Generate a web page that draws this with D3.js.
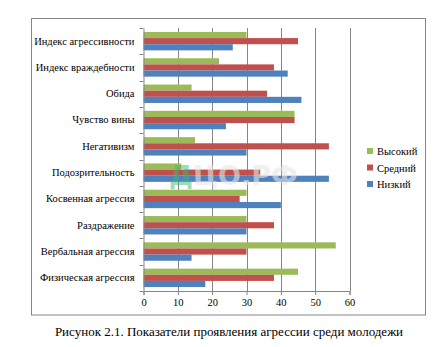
<!DOCTYPE html>
<html><head><meta charset="utf-8">
<script src="https://cdn.jsdelivr.net/npm/d3@7"></script>
<style>body{margin:0;background:#fff}svg{display:block}
.serif{font-family:"Liberation Serif","Times New Roman","DejaVu Serif",serif;}
</style>
</head><body>
<script>
const categories = ["Индекс агрессивности","Индекс враждебности","Обида","Чувство вины","Негативизм","Подозрительность","Косвенная агрессия","Раздражение","Вербальная агрессия","Физическая агрессия"];
const seriesNames = ["Высокий","Средний","Низкий"];
const high = [30,22,14,44,15,11,30,30,56,45];
const mid  = [45,38,36,44,54,34,28,38,30,38];
const low  = [26,42,46,24,30,54,40,30,14,18];
const colors = ["#9BBB59","#C0504D","#4F81BD"];
const xTicks = [0,10,20,30,40,50,60];
const caption = "Рисунок 2.1. Показатели проявления агрессии среди молодежи";

(function(){
const W=447,H=347;
const svg=d3.select("body").append("svg").attr("width",W).attr("height",H);

svg.append("rect").attr("x",31.5).attr("y",18.5).attr("width",394).attr("height",296.5)
  .attr("fill","none").attr("stroke","#868686").attr("stroke-width",1);

const pL=143.5,pR=349.5,pT=28,pB=291;
const x=d3.scaleLinear().domain([0,60]).range([pL,pR]);
const y=d3.scaleBand().domain(categories).range([pT,pB]);
const inner=d3.scaleBand().domain(seriesNames).range([y.bandwidth()*0.15,y.bandwidth()*0.85]).padding(0);

svg.append("g").selectAll("line").data(xTicks.slice(1)).join("line")
  .attr("x1",d=>Math.round(x(d))+0.5).attr("x2",d=>Math.round(x(d))+0.5)
  .attr("y1",pT).attr("y2",pB).attr("stroke","#868686").attr("stroke-width",1);

const data=[high,mid,low];
seriesNames.forEach((s,si)=>{
  svg.append("g").selectAll("rect").data(categories).join("rect")
    .attr("x",x(0)).attr("y",c=>y(c)+inner(s))
    .attr("width",(c,i)=>x(data[si][i])-x(0))
    .attr("height",inner.bandwidth())
    .attr("fill",colors[si]);
});

const wm=svg.append("text").attr("x",169).attr("y",185).style("font-family","'DejaVu Sans',sans-serif")
  .attr("font-size",27).attr("font-weight","bold");
wm.append("tspan").attr("fill","#3cb878").attr("fill-opacity",0.5).text("Д");
wm.append("tspan").attr("fill","#e6e6e6").attr("fill-opacity",0.6).text("ЦО.РФ");

const ya=svg.append("g").attr("transform",`translate(${pL},0)`)
  .call(d3.axisLeft(y).tickSize(0).tickPadding(9));
ya.attr("font-family",null);
ya.select(".domain").attr("stroke","#868686");
ya.selectAll("text").attr("class","serif").attr("font-size",10.5).attr("fill","#000");
ya.append("g").selectAll("line").data(d3.range(categories.length+1)).join("line")
  .attr("x1",-4).attr("x2",0)
  .attr("y1",i=>Math.round(pT+i*y.step())+0.5).attr("y2",i=>Math.round(pT+i*y.step())+0.5)
  .attr("stroke","#868686");

const xa=svg.append("g").attr("transform",`translate(0,${pB})`)
  .call(d3.axisBottom(x).tickValues(xTicks).tickSize(4).tickPadding(4));
xa.attr("font-family",null);
xa.select(".domain").attr("stroke","#868686");
xa.selectAll(".tick line").attr("stroke","#868686");
xa.selectAll("text").attr("class","serif").attr("font-size",10.5).attr("fill","#000");

const lg=svg.append("g");
seriesNames.forEach((s,i)=>{
  const yy=151+i*16.5;
  lg.append("rect").attr("x",367).attr("y",yy-3).attr("width",6).attr("height",6).attr("fill",colors[i]);
  lg.append("text").attr("class","serif").attr("x",377).attr("y",yy+4).attr("font-size",10.5).text(s);
});

svg.append("text").attr("class","serif").attr("x",229).attr("y",336).attr("text-anchor","middle")
  .attr("font-size",13).text(caption);
})();
</script>
</body></html>
